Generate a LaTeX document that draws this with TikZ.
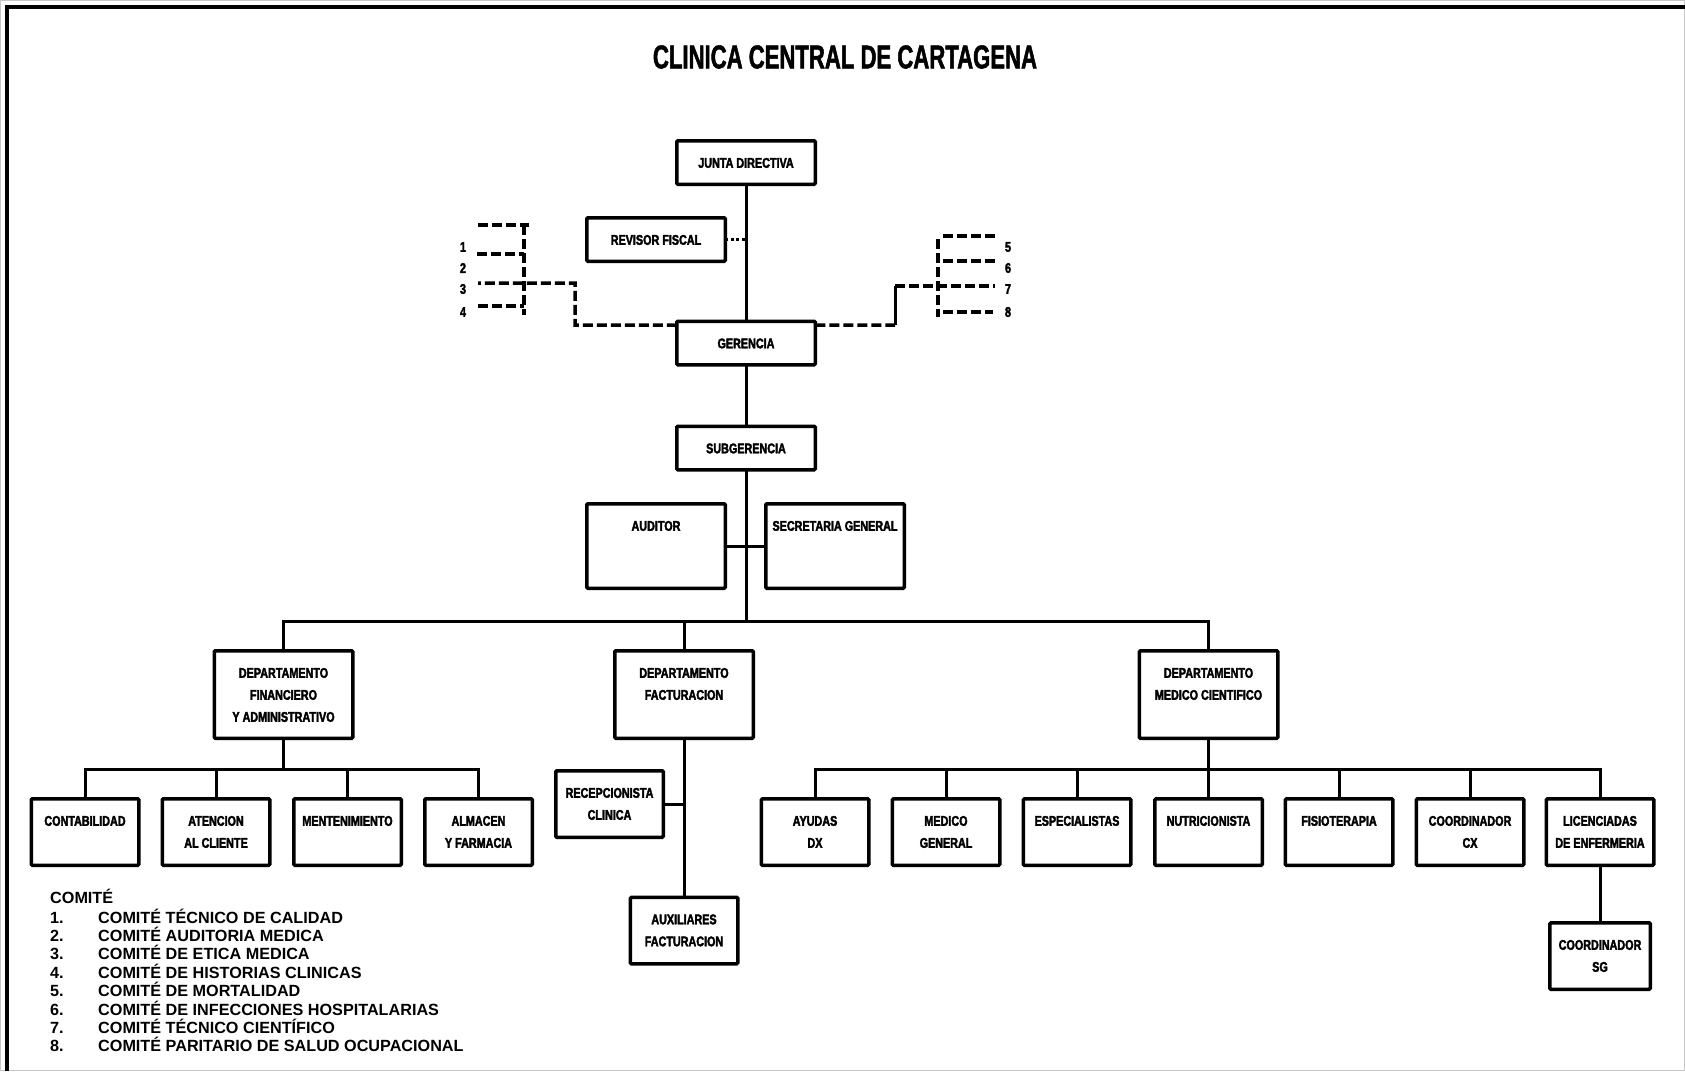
\documentclass[tikz,border=0pt]{standalone}
\usepackage{fontspec}
\setmainfont{Liberation Sans}
\newfontfamily\titlef{Liberation Sans}[FakeStretch=0.67,FakeBold=1.5]
\newfontfamily\boxf{Liberation Sans}[FakeStretch=0.77,FakeBold=2.5]
\newcommand\bt[3]{\parbox[c][#2pt][t]{#1pt}{\centering\rule{0pt}{27pt}#3}}
\tikzset{
  obox/.style={draw, line width=3.5pt, rounded corners=1.2pt, inner sep=0pt, outer sep=0pt,
    font=\boxf\bfseries\fontsize{14pt}{22pt}\selectfont},
  conn/.style={line width=3pt},
  dsh/.style={line width=3.5pt, dash pattern=on 10pt off 4pt},
  dotl/.style={line width=3.5pt, dash pattern=on 3pt off 2.5pt},
  lbl/.style={inner sep=0pt, font=\boxf\bfseries\fontsize{14pt}{16pt}\selectfont},
  leg/.style={inner sep=0pt, anchor=base west, font=\bfseries\fontsize{16.2pt}{18pt}\selectfont},
}
\begin{document}
\begin{tikzpicture}[x=1pt,y=-1pt]
\useasboundingbox (0,0) rectangle (1685,1071);
% frame
\draw[gray!45, line width=1pt] (0.5,0.5) rectangle (1684.5,1070.5);
\draw[line width=4pt] (7,1070.5) -- (7,7) -- (1684.5,7);
% title
\node[inner sep=0pt, font=\titlef\bfseries\fontsize{33pt}{36pt}\selectfont] (title) at (845,57) {CLINICA CENTRAL DE CARTAGENA};
% top boxes
\node[obox] (junta) at (746,162.5) {\bt{138.5}{43.5}{JUNTA DIRECTIVA}};
\node[obox] (rev) at (656,239.5) {\bt{138.5}{43.5}{REVISOR FISCAL}};
\node[obox] (ger) at (746,343) {\bt{138.5}{43.5}{GERENCIA}};
\node[obox] (sub) at (746,448) {\bt{138.5}{43.5}{SUBGERENCIA}};
\node[obox] (aud) at (656,546) {\bt{138.5}{84.5}{AUDITOR}};
\node[obox] (sg) at (835,546) {\bt{138.5}{84.5}{SECRETARIA GENERAL}};
% departments
\node[obox] (fin) at (283.5,694.5) {\bt{138.5}{87.5}{DEPARTAMENTO\\FINANCIERO\\Y ADMINISTRATIVO}};
\node[obox] (fac) at (684,694.5) {\bt{138.5}{87.5}{DEPARTAMENTO\\FACTURACION}};
\node[obox] (med) at (1208.5,694.5) {\bt{138.5}{87.5}{DEPARTAMENTO\\MEDICO CIENTIFICO}};
% financiero row
\node[obox] (cont) at (85,832) {\bt{107.5}{66.5}{CONTABILIDAD}};
\node[obox] (aten) at (216,832) {\bt{107.5}{66.5}{ATENCION\\AL CLIENTE}};
\node[obox] (ment) at (347.5,832) {\bt{107.5}{66.5}{MENTENIMIENTO}};
\node[obox] (alm) at (478.5,832) {\bt{107.5}{66.5}{ALMACEN\\Y FARMACIA}};
% facturacion
\node[obox] (rec) at (609.5,804) {\bt{107.5}{66.5}{RECEPCIONISTA\\CLINICA}};
\node[obox] (aux) at (684,930.5) {\bt{107.5}{66.5}{AUXILIARES\\FACTURACION}};
% medico row
\node[obox] (ayu) at (815,832) {\bt{107.5}{66.5}{AYUDAS\\DX}};
\node[obox] (medg) at (946,832) {\bt{107.5}{66.5}{MEDICO\\GENERAL}};
\node[obox] (esp) at (1077,832) {\bt{107.5}{66.5}{ESPECIALISTAS}};
\node[obox] (nut) at (1208.5,832) {\bt{107.5}{66.5}{NUTRICIONISTA}};
\node[obox] (fis) at (1339,832) {\bt{107.5}{66.5}{FISIOTERAPIA}};
\node[obox] (ccx) at (1470,832) {\bt{107.5}{66.5}{COORDINADOR\\CX}};
\node[obox] (lic) at (1600,832) {\bt{107.5}{66.5}{LICENCIADAS\\DE ENFERMERIA}};
\node[obox] (csg) at (1600,956) {\bt{100.5}{66.5}{COORDINADOR\\SG}};
% bus coordinates
\coordinate (busA) at (0,621);
\coordinate (busB) at (0,769);
% solid connectors
\draw[conn] (junta.south) -- (ger.north);
\draw[conn] (ger.south) -- (sub.north);
\draw[conn] (sub.south) -- (sub.south |- busA);
\draw[conn] (aud.east) -- (sg.west);
\draw[conn] (fin.north) -- (fin.north |- busA) -- (med.north |- busA) -- (med.north);
\draw[conn] (fac.north) -- (fac.north |- busA);
\draw[conn] (fin.south) -- (fin.south |- busB);
\draw[conn] (cont.north) -- (cont.north |- busB) -- (alm.north |- busB) -- (alm.north);
\draw[conn] (aten.north) -- (aten.north |- busB);
\draw[conn] (ment.north) -- (ment.north |- busB);
\draw[conn] (fac.south) -- (aux.north);
\draw[conn] (rec.east) -- (rec.east -| fac.south);
\draw[conn] (med.south) -- (med.south |- busB);
\draw[conn] (ayu.north) -- (ayu.north |- busB) -- (lic.north |- busB) -- (lic.north);
\draw[conn] (medg.north) -- (medg.north |- busB);
\draw[conn] (esp.north) -- (esp.north |- busB);
\draw[conn] (nut.north) -- (nut.north |- busB);
\draw[conn] (fis.north) -- (fis.north |- busB);
\draw[conn] (ccx.north) -- (ccx.north |- busB);
\draw[conn] (lic.south) -- (csg.north);
% revisor dotted
\draw[dotl] (rev.east) -- (rev.east -| junta.south);
% left committee bracket
\coordinate (cL) at (575,325);
\coordinate (L1) at (478,225);
\coordinate (L1e) at (529,225);
\coordinate (L2) at (477,254);
\coordinate (L3) at (478,283);
\coordinate (L4) at (478,306);
\coordinate (BLt) at (524,225);
\coordinate (BLb) at (524,315);
\draw[dsh] ([yshift=-4pt]ger.north west) -- (cL) -- (cL |- L3) -- (L3);
\draw[dsh] (BLt) -- (BLb);
\draw[dsh] (L1) -- (L1e);
\draw[dsh] (L2) -- (L2 -| BLt);
\draw[dsh] (L4) -- (L4 -| BLt);
\node[lbl] (n1) at (463,247) {1};
\node[lbl] (n2) at (463,268) {2};
\node[lbl] (n3) at (463,289) {3};
\node[lbl] (n4) at (463,312) {4};
% right committee bracket
\coordinate (cR) at (895,325);
\coordinate (R5) at (995,236);
\coordinate (R6) at (995,261);
\coordinate (R7) at (995,286);
\coordinate (R8) at (993,312);
\coordinate (BRt) at (938,239);
\coordinate (BRb) at (938,317);
\draw[dsh] ([yshift=-4pt]ger.north east) -- (cR);
\draw[conn] (cR) -- (cR |- R7);
\draw[dsh] (cR |- R7) -- (R7);
\draw[dsh] (BRt) -- (BRb);
\draw[dsh] ([xshift=5pt]BRt |- R5) -- (R5);
\draw[dsh] ([xshift=5pt]BRt |- R6) -- (R6);
\draw[dsh] ([xshift=5pt]BRt |- R8) -- (R8);
\node[lbl] (n5) at (1008,247) {5};
\node[lbl] (n6) at (1008,268) {6};
\node[lbl] (n7) at (1008,289) {7};
\node[lbl] (n8) at (1008,312) {8};
% legend
\node[leg] (c0) at (50,903) {COMITÉ};
\node[leg] (k1) at (50,923) {1.};
\node[leg] (c1) at (98,923) {COMITÉ TÉCNICO DE CALIDAD};
\node[leg] (k2) at (50,941.4) {2.};
\node[leg] (c2) at (98,941.4) {COMITÉ AUDITORIA MEDICA};
\node[leg] (k3) at (50,959.8) {3.};
\node[leg] (c3) at (98,959.8) {COMITÉ DE ETICA MEDICA};
\node[leg] (k4) at (50,978.2) {4.};
\node[leg] (c4) at (98,978.2) {COMITÉ DE HISTORIAS CLINICAS};
\node[leg] (k5) at (50,996.6) {5.};
\node[leg] (c5) at (98,996.6) {COMITÉ DE MORTALIDAD};
\node[leg] (k6) at (50,1015) {6.};
\node[leg] (c6) at (98,1015) {COMITÉ DE INFECCIONES HOSPITALARIAS};
\node[leg] (k7) at (50,1033.4) {7.};
\node[leg] (c7) at (98,1033.4) {COMITÉ TÉCNICO CIENTÍFICO};
\node[leg] (k8) at (50,1051.8) {8.};
\node[leg] (c8) at (98,1051.8) {COMITÉ PARITARIO DE SALUD OCUPACIONAL};
\end{tikzpicture}
\end{document}
